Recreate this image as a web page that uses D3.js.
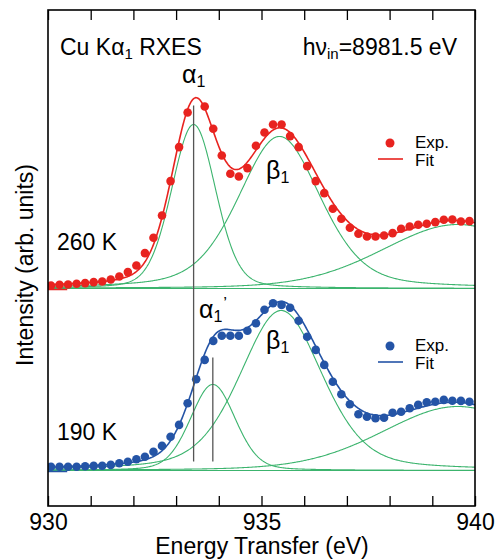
<!DOCTYPE html>
<html>
<head>
<meta charset="utf-8">
<script src="https://cdn.jsdelivr.net/npm/d3@7"></script>
<style>
  body { margin: 0; background: #fff; }
  text { font-family: "Liberation Sans", Arial, sans-serif; fill: #000; }
</style>
</head>
<body>
<svg width="495" height="559"></svg>
<script>
// measured energies (eV)
var energy = [
  930.07, 930.27, 930.47, 930.67, 930.87, 931.07, 931.27, 931.47, 931.67, 931.87,
  932.07, 932.27, 932.47, 932.67, 932.87, 933.07, 933.27, 933.47, 933.67, 933.87,
  934.07, 934.27, 934.47, 934.67, 934.87, 935.07, 935.27, 935.47, 935.67, 935.87,
  936.07, 936.27, 936.47, 936.67, 936.87, 937.07, 937.27, 937.47, 937.67, 937.87,
  938.07, 938.27, 938.47, 938.67, 938.87, 939.07, 939.27, 939.47, 939.67, 939.87
];

// 260 K intensities (one point hidden under the peak)
var exp260 = [
  0.020, 0.024, 0.025, 0.029, 0.032, 0.037, 0.040, 0.050, 0.065, 0.087,
  0.120, 0.182, 0.259, 0.370, 0.542, 0.712, 0.885, null, 0.915, 0.804,
  0.670, 0.579, 0.565, 0.607, 0.719, 0.785, 0.825, 0.825, 0.767, 0.712,
  0.617, 0.542, 0.482, 0.404, 0.354, 0.309, 0.279, 0.265, 0.265, 0.270,
  0.282, 0.304, 0.315, 0.324, 0.329, 0.337, 0.349, 0.350, 0.340, 0.342
];

// 190 K intensities
var exp190 = [
  0.024, 0.024, 0.024, 0.024, 0.026, 0.028, 0.029, 0.033, 0.041, 0.049,
  0.061, 0.074, 0.099, 0.128, 0.174, 0.233, 0.341, 0.461, 0.558, 0.653,
  0.679, 0.679, 0.679, 0.704, 0.741, 0.809, 0.841, 0.833, 0.819, 0.754,
  0.674, 0.608, 0.533, 0.449, 0.386, 0.336, 0.286, 0.274, 0.266, 0.269,
  0.294, 0.299, 0.316, 0.333, 0.346, 0.349, 0.358, 0.354, 0.353, 0.349
];

// fit components (pseudo-Voigt): centre, amplitude, half width, lorentz fraction
var fit260Center = [933.41, 935.42, 939.6];
var fit260Amp    = [0.82, 0.76, 0.32];
var fit260Width  = [0.61, 1.14, 2.1];
var fit190Center = [933.86, 935.46, 939.6];
var fit190Amp    = [0.43, 0.80, 0.32];
var fit190Width  = [0.62, 1.14, 2.1];
var fitEta       = [0.2, 0.35, 0.2];
var fitBackground = 0.005;

var offset260 = 0.91;   // vertical shift of the 260 K curve
var offset190 = 0;

// vertical marker lines: energy, from, to
var markerEnergy = [933.41, 933.86];
var markerFrom   = [0.05, 0.05];
var markerTo     = [1.83, 0.57];

var xTicks = [930, 931, 932, 933, 934, 935, 936, 937, 938, 939, 940];
var xLabels = [930, 935, 940];

var red = "#e8231f", blue = "#2454a6", green = "#3cb46e";

var svg = d3.select("svg");

var x = d3.scaleLinear().domain([930, 940]).range([48, 475]);
var y = d3.scaleLinear().domain([-0.1725, 2.3075]).range([506, 10]);

function pv(e, c, w, eta) {
  var t = (e - c) / w;
  return (1 - eta) * Math.exp(-Math.LN2 * t * t) + eta / (1 + t * t);
}

var grid = d3.range(930, 940.001, 0.02);

svg.append("clipPath").attr("id", "plot")
  .append("rect").attr("x", 48).attr("y", 10).attr("width", 427).attr("height", 496);

var plot = svg.append("g").attr("clip-path", "url(#plot)");

var line = d3.line()
    .x(function(d) { return x(d[0]); })
    .y(function(d) { return y(d[1]); });

function drawSpectrum(data, centers, amps, widths, off, color) {
  // background
  plot.append("path")
      .datum(grid.map(function(e) { return [e, off + fitBackground]; }))
      .attr("d", line)
      .attr("fill", "none").attr("stroke", green).attr("stroke-width", 1.1);

  // components
  centers.forEach(function(c, i) {
    plot.append("path")
        .datum(grid.map(function(e) {
          return [e, off + fitBackground + amps[i] * pv(e, c, widths[i], fitEta[i])];
        }))
        .attr("d", line)
        .attr("fill", "none").attr("stroke", green).attr("stroke-width", 1.1);
  });

  // zero marker at left axis
  plot.append("line")
      .attr("x1", x(930)).attr("x2", x(930.45))
      .attr("y1", y(off)).attr("y2", y(off))
      .attr("stroke", color).attr("stroke-width", 1.5);

  // total fit
  plot.append("path")
      .datum(grid.map(function(e) {
        var s = fitBackground;
        centers.forEach(function(c, i) { s += amps[i] * pv(e, c, widths[i], fitEta[i]); });
        return [e, off + s];
      }))
      .attr("d", line)
      .attr("fill", "none").attr("stroke", color).attr("stroke-width", 1.6);

  // measured points
  plot.append("g").selectAll("circle")
      .data(energy.map(function(e, i) { return [e, data[i]]; })
                  .filter(function(d) { return d[1] != null; }))
    .enter().append("circle")
      .attr("cx", function(d) { return x(d[0]); })
      .attr("cy", function(d) { return y(off + d[1]); })
      .attr("r", 4.3)
      .attr("fill", color);
}

drawSpectrum(exp260, fit260Center, fit260Amp, fit260Width, offset260, red);
drawSpectrum(exp190, fit190Center, fit190Amp, fit190Width, offset190, blue);

// marker lines
plot.selectAll(".marker")
    .data(markerEnergy)
  .enter().append("line")
    .attr("class", "marker")
    .attr("x1", function(d) { return x(d); })
    .attr("x2", function(d) { return x(d); })
    .attr("y1", function(d, i) { return y(markerFrom[i]); })
    .attr("y2", function(d, i) { return y(markerTo[i]); })
    .attr("stroke", "#555").attr("stroke-width", 1.3);

// axes
var bottomAxis = svg.append("g")
    .attr("transform", "translate(0,506)")
    .call(d3.axisBottom(x)
      .tickValues(xTicks)
      .tickSizeInner(-10)
      .tickSizeOuter(0)
      .tickPadding(8)
      .tickFormat(function(d) { return xLabels.indexOf(d) >= 0 ? d : ""; }));
bottomAxis.selectAll("text").attr("font-size", 23).attr("font-family", "Liberation Sans, Arial, sans-serif");
bottomAxis.selectAll("line").attr("stroke-width", 1.3);
bottomAxis.select(".domain").remove();

var topAxis = svg.append("g")
    .attr("transform", "translate(0,10)")
    .call(d3.axisTop(x).tickValues(xTicks).tickSizeInner(-10).tickSizeOuter(0).tickFormat(""));
topAxis.selectAll("line").attr("stroke-width", 1.3);
topAxis.select(".domain").remove();

svg.append("rect")
    .attr("x", 48).attr("y", 10).attr("width", 427).attr("height", 496)
    .attr("fill", "none").attr("stroke", "#000").attr("stroke-width", 1.6);

// axis titles
svg.append("text")
    .attr("x", 262).attr("y", 554)
    .attr("text-anchor", "middle").attr("font-size", 23)
    .text("Energy Transfer (eV)");

svg.append("text")
    .attr("transform", "translate(33,265) rotate(-90)")
    .attr("text-anchor", "middle").attr("font-size", 23)
    .text("Intensity (arb. units)");

// header texts
var t1 = svg.append("text").attr("x", 60).attr("y", 55).attr("font-size", 23);
t1.append("tspan").text("Cu K\u03b1");
t1.append("tspan").attr("font-size", 15).attr("dy", 4).text("1");
t1.append("tspan").attr("dy", -4).text(" RXES");

var t2 = svg.append("text").attr("x", 457).attr("y", 55).attr("font-size", 23)
    .attr("text-anchor", "end");
t2.append("tspan").text("h\u03bd");
t2.append("tspan").attr("font-size", 15).attr("dy", 4).text("in");
t2.append("tspan").attr("dy", -4).text("=8981.5 eV");

// temperature labels
svg.append("text").attr("x", 57).attr("y", 250).attr("font-size", 23).text("260 K");
svg.append("text").attr("x", 57).attr("y", 440).attr("font-size", 23).text("190 K");

// peak labels
function greek(px, py, sym, prime) {
  var t = svg.append("text").attr("x", px).attr("y", py).attr("font-size", 25);
  t.append("tspan").text(sym);
  t.append("tspan").attr("font-size", 16).attr("dy", 4).text("1");
  if (prime) t.append("tspan").attr("font-size", 17).attr("dx", 1).attr("dy", -13).text("\u2019");
}
greek(182, 83, "\u03b1", false);
greek(266, 179, "\u03b2", false);
greek(199, 318, "\u03b1", true);
greek(266, 349, "\u03b2", false);

// legends
function legend(ly, color) {
  svg.append("circle").attr("cx", 390).attr("cy", ly).attr("r", 4.5).attr("fill", color);
  svg.append("text").attr("x", 415).attr("y", ly + 5).attr("font-size", 17).text("Exp.");
  svg.append("line").attr("x1", 378).attr("x2", 403).attr("y1", ly + 16).attr("y2", ly + 16)
      .attr("stroke", color).attr("stroke-width", 1.6);
  svg.append("text").attr("x", 415).attr("y", ly + 23).attr("font-size", 17).text("Fit");
}
legend(143, red);
legend(346, blue);
</script>
</body>
</html>
